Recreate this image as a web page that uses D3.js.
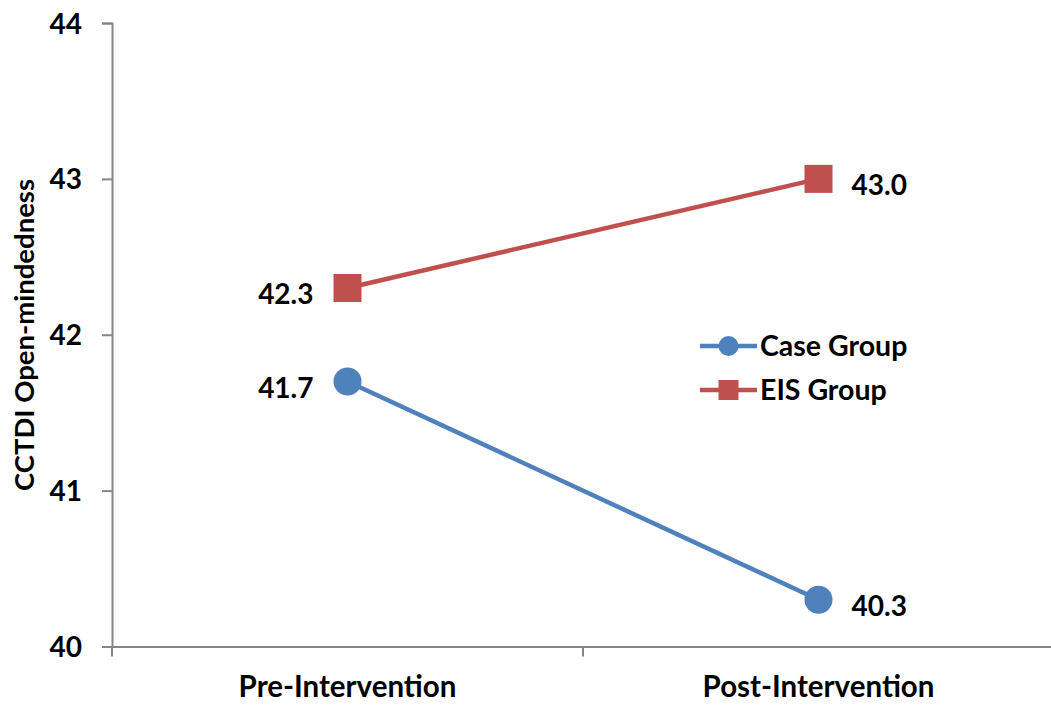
<!DOCTYPE html>
<html>
<head>
<meta charset="utf-8">
<script src="https://cdn.jsdelivr.net/npm/d3@7"></script>
<style>
  body { margin: 0; background: #fff; }
  svg text { font-family: Lato, "Open Sans", sans-serif; font-weight: bold; fill: #000; }
</style>
</head>
<body>
<svg id="chart" width="1051" height="706"></svg>
<script>
const phases = ["Pre-Intervention", "Post-Intervention"];
const caseGroup = [41.7, 40.3];
const eisGroup = [42.3, 43.0];
const yTicks = [40, 41, 42, 43, 44];
const seriesNames = ["Case Group", "EIS Group"];

const svg = d3.select("#chart");
const x = d3.scaleBand().domain(phases).range([112, 1054]);
const y = d3.scaleLinear().domain([40, 44]).range([646.5, 23]);
const axisColor = "#868686";

// y axis
const yAxis = svg.append("g").attr("transform", "translate(112,0)")
    .call(d3.axisLeft(y).tickValues(yTicks).tickSize(10).tickPadding(20).tickFormat(d3.format("d")));
yAxis.select(".domain").attr("stroke", axisColor).attr("stroke-width", 2);
yAxis.selectAll(".tick line").attr("stroke", axisColor).attr("stroke-width", 2);
yAxis.selectAll(".tick text").style("font-size", "28px").attr("dy", "0.36em");

// x axis
const xAxis = svg.append("g").attr("transform", "translate(0,646.5)")
    .call(d3.axisBottom(x).tickSize(0).tickPadding(0));
xAxis.select(".domain").attr("stroke", axisColor).attr("stroke-width", 2);
xAxis.selectAll(".tick text").style("font-size", "29.5px").attr("dy", 0).attr("y", 50.5);
// tick marks between categories
const bounds = [112, x(phases[1]), 1054];
xAxis.selectAll(".sep").data(bounds).enter().append("line")
    .attr("x1", d => d).attr("x2", d => d)
    .attr("y1", 0).attr("y2", 10)
    .attr("stroke", axisColor).attr("stroke-width", 2);

svg.append("text")
    .attr("transform", "translate(34,335) rotate(-90)")
    .attr("text-anchor", "middle")
    .style("font-size", "27.5px")
    .text("CCTDI Open-mindedness");

const cx = d => x(d) + x.bandwidth() / 2;
const line = d3.line().x((d, i) => cx(phases[i])).y(d => y(d));

// EIS group
svg.append("path").datum(eisGroup).attr("d", line)
    .attr("fill", "none").attr("stroke", "#C0504D").attr("stroke-width", 4.5);
svg.selectAll(".sq").data(eisGroup).enter().append("rect")
    .attr("x", (d, i) => cx(phases[i]) - 14).attr("y", d => y(d) - 14)
    .attr("width", 28).attr("height", 28).attr("fill", "#C0504D");

// Case group
svg.append("path").datum(caseGroup).attr("d", line)
    .attr("fill", "none").attr("stroke", "#4F81BD").attr("stroke-width", 4.5);
svg.selectAll(".dot").data(caseGroup).enter().append("circle")
    .attr("cx", (d, i) => cx(phases[i])).attr("cy", d => y(d))
    .attr("r", 14).attr("fill", "#4F81BD");

// data labels
const labels = [
  ...caseGroup.map((v, i) => ({ v, i })),
  ...eisGroup.map((v, i) => ({ v, i }))
];
svg.selectAll(".lbl").data(labels).enter().append("text")
    .attr("x", d => d.i === 0 ? cx(phases[0]) - 34 : cx(phases[1]) + 33)
    .attr("y", d => y(d.v) + 16)
    .attr("text-anchor", d => d.i === 0 ? "end" : "start")
    .style("font-size", "28px")
    .text(d => d.v.toFixed(1));

// legend
const legend = svg.append("g").attr("transform", "translate(700,346)");
const colors = ["#4F81BD", "#C0504D"];
seriesNames.forEach((name, i) => {
  const g = legend.append("g").attr("transform", `translate(0,${i * 44})`);
  g.append("line").attr("x1", 0).attr("x2", 57).attr("y1", 0).attr("y2", 0)
      .attr("stroke", colors[i]).attr("stroke-width", 4.5);
  if (i === 0) g.append("circle").attr("cx", 28.5).attr("cy", 0).attr("r", 10).attr("fill", colors[i]);
  else g.append("rect").attr("x", 18.5).attr("y", -10).attr("width", 20).attr("height", 20).attr("fill", colors[i]);
  g.append("text").attr("x", 60).attr("y", 10).style("font-size", "28.5px").text(name);
});
</script>
</body>
</html>
